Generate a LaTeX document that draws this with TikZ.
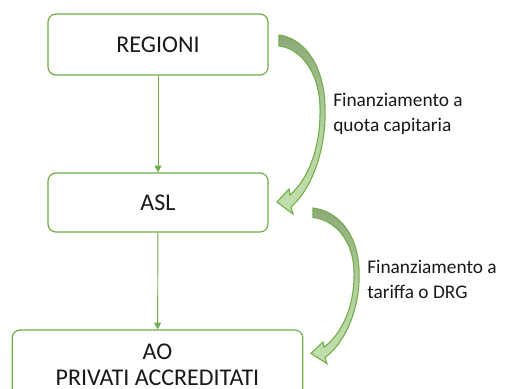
\documentclass[tikz,border=0pt]{standalone}
\usepackage{fontspec}
\setmainfont{Carlito}
\usetikzlibrary{arrows.meta}
\definecolor{verde}{HTML}{70AD47}
\definecolor{verdescuro}{HTML}{8CA878}
\definecolor{verdechiaro}{HTML}{C2E0AE}
\newcommand{\frecciacurva}{%
  \draw[verde, line width=0.8pt, top color=verdescuro, bottom color=verdechiaro, middle color=verdechiaro!70!verdescuro]
    (0,0) .. controls (22,3) and (44,25) .. (46,70)
    .. controls (48,115) and (32,155) .. (12,172)
    -- (14,179) -- (-2,167) -- (10,154) -- (11,160)
    .. controls (28,145) and (42,115) .. (41,72)
    .. controls (40,35) and (20,13) .. (0,11) -- cycle;
}
\begin{document}
\begin{tikzpicture}[x=0.75pt, y=-0.75pt,
    ente/.style={draw=verde, line width=0.9pt, rounded corners=6pt, fill=white,
      font=\fontsize{18}{19.5}\selectfont, text=black!90, align=center, inner sep=0pt},
    flusso/.style={draw=verde, line width=0.7pt, -{Triangle[width=5pt,length=5pt]}},
    nota/.style={font=\fontsize{14.5}{18.75}\selectfont, text=black!90, align=left, anchor=north west, inner sep=0pt}]
    \useasboundingbox (0,0) rectangle (514,389);
    % enti
    \node[ente, minimum width=165pt, minimum height=45.75pt] (regioni) at (158,44.5) {REGIONI};
    \node[ente, minimum width=165pt, minimum height=44.25pt] (asl) at (158,202.5) {ASL};
    \node[ente, minimum width=218pt, minimum height=52.5pt] (ao) at (157.5,365) {AO\\PRIVATI ACCREDITATI};
    % flussi
    \draw[flusso] (regioni) -- (asl);
    \draw[flusso] (asl) -- (ao);
    % frecce curve
    \begin{scope}[shift={(279,35)}]
        \frecciacurva
    \end{scope}
    \begin{scope}[shift={(313,208)}, yscale=0.87]
        \frecciacurva
    \end{scope}
    \node[nota] (quota) at (333,93) {Finanziamento a\\quota capitaria};
    \node[nota] (tariffa) at (367,260) {Finanziamento a\\tariffa o DRG};
\end{tikzpicture}
\end{document}
